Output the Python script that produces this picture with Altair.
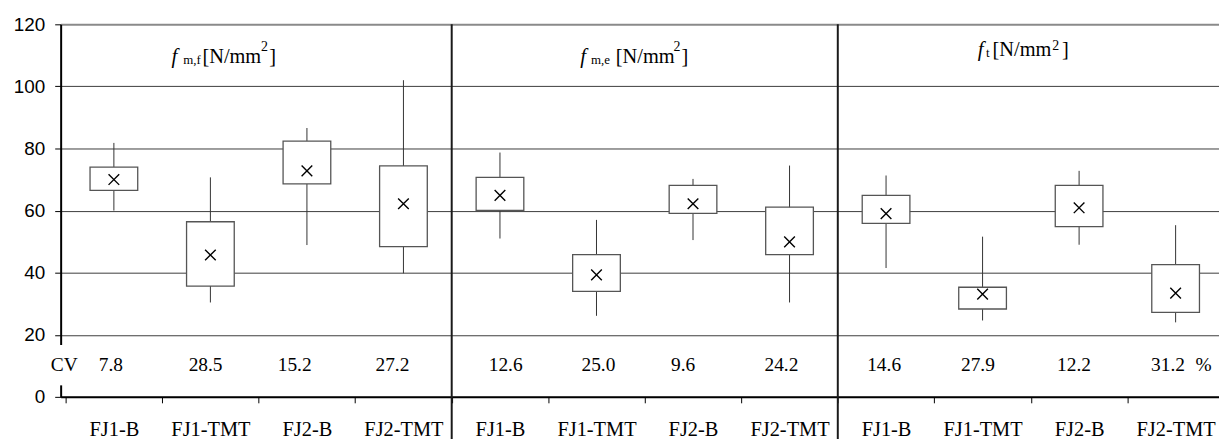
import json
import altair as alt
import pandas as pd

# ---------------- data ----------------
categories = ["FJ1-B", "FJ1-TMT", "FJ2-B", "FJ2-TMT"]
panel_subscripts = ["m,f", "m,e", "t"]

# 12 groups: panel fm,f (4 cats), panel fm,e (4 cats), panel ft (4 cats)
whisker_low = [60.0, 30.4, 48.9, 39.8, 51.0, 26.1, 50.5, 30.4, 41.5, 24.6, 49.0, 24.0]
box_low = [66.5, 35.7, 68.6, 48.4, 60.1, 34.0, 59.1, 45.8, 55.9, 28.3, 54.8, 27.2]
box_high = [74.0, 56.4, 82.4, 74.4, 70.7, 45.8, 68.1, 61.1, 64.9, 35.3, 68.1, 42.6]
whisker_high = [81.8, 70.7, 86.6, 102.0, 78.7, 57.0, 70.2, 74.5, 71.3, 51.6, 72.8, 55.3]
means = [70.0, 45.7, 72.8, 62.2, 64.9, 39.3, 62.2, 49.9, 59.0, 33.1, 60.9, 33.4]

cv_labels = ["CV", "7.8", "28.5", "15.2", "27.2", "12.6", "25.0", "9.6", "24.2",
             "14.6", "27.9", "12.2", "31.2", "%"]
cv_x = [-0.015, 0.469, 1.45, 2.373, 3.386, 4.559, 5.52, 6.398, 7.416,
        8.48, 9.452, 10.447, 11.421, 11.79]
cv_row = 10.2

title_x = [1.098, 5.333, 9.449]
title_y = [107.5, 107.5, 109.7]

separators = [4, 8]
y_ticks = [0, 20, 40, 60, 80, 100, 120]

# ---------------- layout / style ----------------
W, H = 1166, 375
SLOT = 98
SERIF = "Liberation Serif"
SANS = "Liberation Sans"

n = len(means)
df = pd.DataFrame({
    "x": [i + 0.5 for i in range(n)],
    "cat": [categories[i % 4] for i in range(n)],
    "wlo": whisker_low, "qlo": box_low, "qhi": box_high,
    "whi": whisker_high, "mean": means,
})
cv_df = pd.DataFrame({"x": cv_x, "t": cv_labels, "y": [cv_row] * len(cv_labels)})
sep_df = pd.DataFrame({"x": separators})

x_scale = alt.Scale(domain=[0, W / SLOT], nice=False, zero=False)
y_scale = alt.Scale(domain=[0, 120], nice=False, zero=False)

cat_js = json.dumps(categories)
x_axis = alt.Axis(
    values=[i / 2 for i in range(24)],
    labelExpr=f"datum.value % 1 == 0 ? '' : {cat_js}[floor(datum.value) % 4]",
    tickSize=6, tickColor="black", tickWidth=1,
    tickOpacity={"condition": {"test": "datum.value % 1 != 0", "value": 0}, "value": 1},
    domainColor="black", domainWidth=2, grid=False, title=None,
    labelFont=SERIF, labelFontSize=20.5, labelColor="black", labelPadding=17,
    labelFlush=False, labelOverlap=False, labelBound=False,
)
y_axis = alt.Axis(
    values=y_ticks, tickSize=6, tickColor="black", tickWidth=1,
    domainColor="black", domainWidth=2, title=None,
    grid=True,
    gridColor={"condition": {"test": "datum.value == 120", "value": "#8a8a8a"}, "value": "#3c3c3c"},
    gridWidth={"condition": {"test": "datum.value == 120", "value": 2}, "value": 1},
    labelFont=SANS, labelFontSize=19, labelColor="black", labelPadding=10,
)


def X(field):
    return alt.X(f"{field}:Q", scale=x_scale, axis=x_axis)


def Y(field):
    return alt.Y(f"{field}:Q", scale=y_scale, axis=y_axis)


base = alt.Chart(df)

whiskers = base.mark_rule(color="#333333", strokeWidth=1).encode(
    x=X("x"), y=Y("wlo"), y2="whi")

boxes = base.mark_bar(size=48, orient="vertical", fill="white", stroke="#555555",
                      strokeWidth=1.3).encode(x=X("x"), y=Y("qlo"), y2="qhi")

mean_marks = base.mark_point(shape="M-1,-1L1,1M-1,1L1,-1", size=115, filled=False,
                             color="black", strokeWidth=1.4, opacity=1).encode(
    x=X("x"), y=Y("mean"))

seps = alt.Chart(sep_df).mark_rule(color="#1a1a1a", strokeWidth=2).encode(
    x=X("x"), y=alt.value(0), y2=alt.value(H + 50))

cv_mask = alt.Chart(pd.DataFrame({"y": [cv_row]})).transform_calculate(
    lo="datum.y - 6.5", hi="datum.y + 6.5").mark_rect(color="white").encode(
    x=alt.value(-10), x2=alt.value(10), y=Y("lo"), y2="hi")

cv_text = alt.Chart(cv_df).mark_text(font=SERIF, fontSize=19.5, color="black",
                                      baseline="middle", align="center").encode(
    x=X("x"), y=Y("y"), text="t:N")

layers = [seps, whiskers, boxes, mean_marks, cv_mask, cv_text]

# title pieces: f (italic), subscript, "[N/mm", superscript 2, "]"
piece_dx = [[0, 11.7, 31, 90, 98.4], [0, 10.7, 35.7, 93.7, 101.7], [0, 8.3, 15, 75, 85]]
sup_dy = [-11.7, -11.7, -6]
for p in range(3):
    tdf = pd.DataFrame({"x": [title_x[p]], "y": [title_y[p]]})
    tb = alt.Chart(tdf)
    pieces = [
        ("f", 21, "italic", 0),
        (panel_subscripts[p], 13, "normal", 1),
        ("[N/mm", 20.5, "normal", 0),
        ("2", 14, "normal", sup_dy[p]),
        ("]", 20.5, "normal", 0),
    ]
    for k, (txt, fs, style, dy) in enumerate(pieces):
        layers.append(
            tb.mark_text(text=txt, font=SERIF, fontSize=fs, fontStyle=style,
                         color="black", align="left", baseline="alphabetic",
                         dx=piece_dx[p][k], dy=dy).encode(x=X("x"), y=Y("y"))
        )

chart = alt.layer(*layers).properties(
    width=W, height=H,
    autosize=alt.AutoSizeParams(type="none"),
    padding={"left": 53, "top": 15, "right": 0, "bottom": 41},
    background="white",
).configure_view(stroke=None)

chart.save("out.html", embed_options={"renderer": "svg", "actions": False})
